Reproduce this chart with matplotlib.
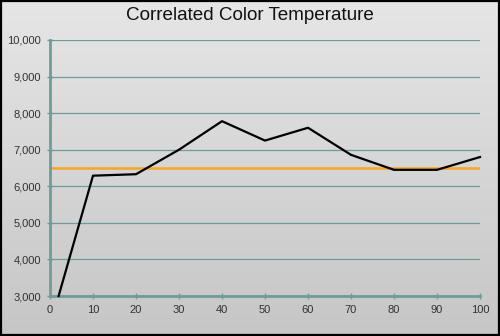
import numpy as np
import matplotlib.pyplot as plt
from matplotlib.colors import LinearSegmentedColormap
from matplotlib.ticker import FuncFormatter

plt.rcParams["font.family"] = ["Liberation Sans", "DejaVu Sans"]

# CCT per stimulus level (% IRE)
levels = [2, 10, 20, 30, 40, 50, 60, 70, 80, 90, 100]
cct = [3000, 6290, 6330, 7000, 7780, 7250, 7600, 6860, 6450, 6450, 6800]
target = 6500

teal = "#6f9c98"

fig = plt.figure(figsize=(5.0, 3.36), dpi=100)

# gradient background over the whole figure
bg = fig.add_axes([0, 0, 1, 1], zorder=0)
grad = np.linspace(0, 1, 256).reshape(-1, 1)
bg.imshow(grad, aspect="auto", cmap=LinearSegmentedColormap.from_list("g", ["#e6e6e6", "#c6c6c6"]),
          extent=[0, 1, 0, 1], origin="upper")
bg.set_xlim(0, 1)
bg.set_ylim(0, 1)
bg.axis("off")
fig.patches.append(plt.Rectangle((0.002, 0.003), 0.996, 0.994, transform=fig.transFigure,
                                 fill=False, edgecolor="black", linewidth=1.6, zorder=5))

ax = fig.add_axes([0.1, 0.119, 0.86, 0.762], zorder=1)
ax.patch.set_alpha(0)
ax.set_xlim(0, 100)
ax.set_ylim(3000, 10000)
ax.set_xticks(range(0, 101, 10))
ax.set_yticks(range(3000, 10001, 1000))
ax.yaxis.set_major_formatter(FuncFormatter(lambda v, p: f"{int(v):,}"))
ax.grid(axis="y", color=teal, linewidth=0.9)
for side in ["top", "right"]:
    ax.spines[side].set_visible(False)
for side in ["left", "bottom"]:
    ax.spines[side].set_color(teal)
    ax.spines[side].set_linewidth(2.0)
ax.tick_params(direction="inout", length=5, width=1.0, color=teal,
               labelsize=8, labelcolor="#333333", pad=4)

ax.axhline(target, color="#f5a623", linewidth=1.8, zorder=2)
ax.plot(levels, cct, color="black", linewidth=1.6, zorder=3, clip_on=False)

fig.text(0.5, 0.955, "Correlated Color Temperature", ha="center", va="center",
         fontsize=13.6, color="#111111")

fig.savefig("out.png", dpi=100)
